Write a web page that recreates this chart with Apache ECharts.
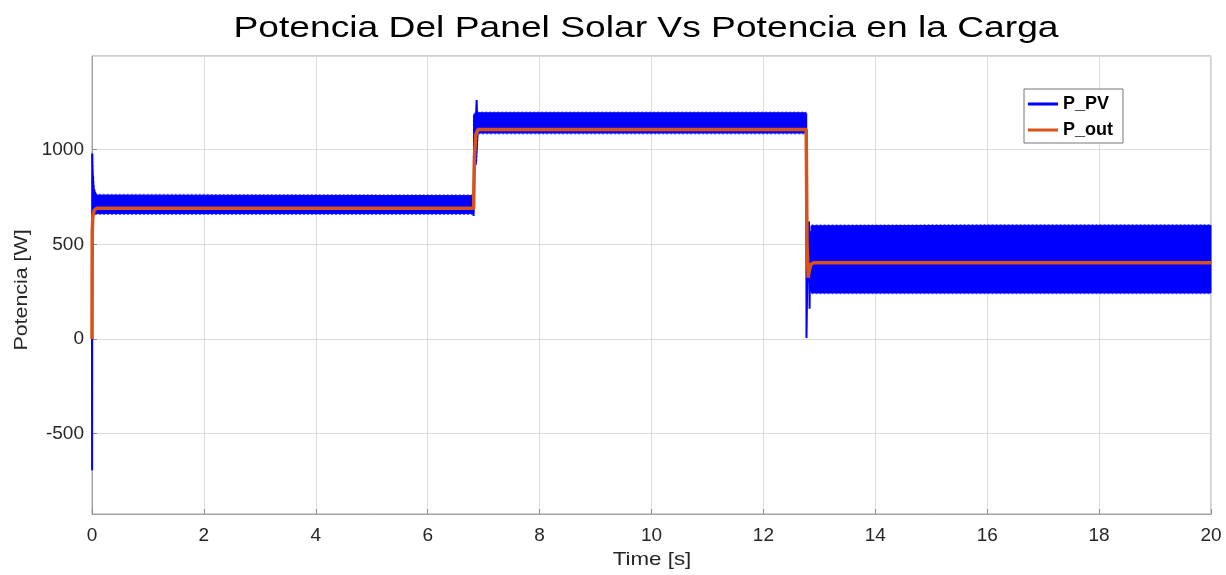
<!DOCTYPE html>
<html>
<head>
<meta charset="utf-8">
<script src="https://cdn.jsdelivr.net/npm/echarts@6/dist/echarts.min.js"></script>
<style>
  html, body { margin: 0; padding: 0; background: #ffffff; }
  #chart { width: 1226px; height: 575px; }
</style>
</head>
<body>
<div id="chart"></div>
<script>
// ---- Data -------------------------------------------------------------
// P_PV switching ripple: envelope of the fast oscillation (time [s], min/max [W]).
// A null entry breaks the band during the load-step transient.
const pvBandTime = [0.004, 0.015, 0.04, 0.08, 6.82, 6.823, 6.87, 6.9, 12.765, 12.8, 12.86, 16, 20];
const pvBandLow  = [560,   640,   660,  662,  662,  900,   930,  1088, 1088,   null, 243,   243, 243];
const pvBandHigh = [978,   880,   790,  760,  757,  1185,  1195, 1195, 1195,   null, 598,   600, 600];

// P_PV transients at start-up and at each irradiance step (null = pen up)
const pvTraceTime  = [0, 0.002, 0.006, 0.012, 0.02, 6.8, 6.82, 6.835, 6.85, 6.865, 6.875, 6.885, 6.9, 6.91, 12.76, 12.765, 12.77, 12.785, 12.8, 12.815, 12.825, 12.84, 12.85, 12.86];
const pvTraceValue = [0, -694,  978,   620,   860,  null, 650,  1180,  920,  1190,  1262,  1150,  1100, null, null,  1190,   5,     330,    300,   621,    160,    570,   250,   598];

// P_out: power delivered to the load
const outTime  = [0, 0.004, 0.015, 0.04, 0.08, 6.82, 6.835, 6.86, 6.9, 12.765, 12.78, 12.8, 12.82, 12.85, 12.9, 20];
const outValue = [0, 560,   650,   680,  690,  690,  960,   1080, 1107, 1107,   500,   324,  360,   395,   403,  403];

// Axis ranges and tick labels
const xTicks = [0, 2, 4, 6, 8, 10, 12, 14, 16, 18, 20];
const yRange = [-925, 1495];
const yTickLabels = [-500, 0, 500, 1000];

// ---- Styles -----------------------------------------------------------
const PV_BLUE = '#0000ff';
const OUT_ORANGE = '#d95319';
const FONT = '"Liberation Sans", Arial, Helvetica, sans-serif';
const TEXT = '#262626';
const AXIS = '#a3a3a3';
const GRID = '#dcdcdc';

const chart = echarts.init(document.getElementById('chart'), null, { renderer: 'canvas' });

// Ripple band: filled polygon between the envelopes, with a dashed fringe on its edges
function renderBand(params, api) {
  if (params.dataIndex !== 0) return null;
  const children = [];
  let run = [];
  const flush = () => {
    if (run.length >= 2) {
      const upper = run.map(i => api.coord([pvBandTime[i], pvBandHigh[i]]));
      const lower = run.map(i => api.coord([pvBandTime[i], pvBandLow[i]]));
      children.push({
        type: 'polygon',
        shape: { points: upper.concat(lower.slice().reverse()) },
        style: { fill: PV_BLUE, stroke: PV_BLUE, lineWidth: 1 }
      });
      children.push({
        type: 'polyline',
        shape: { points: upper.map(p => [p[0], p[1] - 0.6]) },
        style: { stroke: PV_BLUE, lineWidth: 1.6, lineDash: [2, 2], fill: null, opacity: 0.55 }
      });
      children.push({
        type: 'polyline',
        shape: { points: lower.map(p => [p[0], p[1] + 0.6]) },
        style: { stroke: PV_BLUE, lineWidth: 1.6, lineDash: [2, 2], fill: null, opacity: 0.55 }
      });
    }
    run = [];
  };
  for (let i = 0; i < pvBandTime.length; i++) {
    if (pvBandLow[i] == null || pvBandHigh[i] == null) flush();
    else run.push(i);
  }
  flush();
  return { type: 'group', children };
}

const bandData = pvBandTime
  .map((t, i) => [t, pvBandLow[i], pvBandHigh[i]])
  .filter(d => d[1] != null);
const traceData = pvTraceTime.map((t, i) => [t, pvTraceValue[i] == null ? '-' : pvTraceValue[i]]);
const outData = outTime.map((t, i) => [t, outValue[i]]);

const option = {
  animation: false,
  backgroundColor: '#ffffff',
  textStyle: { fontFamily: FONT },
  grid: {
    left: 92, right: 15, top: 56, bottom: 61,
    show: true, borderColor: AXIS, borderWidth: 1, backgroundColor: '#ffffff'
  },
  graphic: [
    {
      type: 'text', x: 646, y: 29, scaleX: 1.24,
      style: {
        text: 'Potencia Del Panel Solar Vs Potencia en la Carga',
        font: '30px ' + FONT, fill: '#000000',
        align: 'center', verticalAlign: 'middle'
      }
    },
    {
      type: 'text', x: 652, y: 560, scaleX: 1.2,
      style: {
        text: 'Time [s]', font: '18.6px ' + FONT, fill: TEXT,
        align: 'center', verticalAlign: 'middle'
      }
    },
    {
      type: 'text', x: 22, y: 290, rotation: Math.PI / 2, scaleX: 1.15,
      style: {
        text: 'Potencia [W]', font: '18.6px ' + FONT, fill: TEXT,
        align: 'center', verticalAlign: 'middle'
      }
    }
  ],
  legend: {
    left: 1024, top: 89, orient: 'vertical',
    backgroundColor: '#ffffff', borderColor: '#777777', borderWidth: 1, borderRadius: 0,
    padding: [6, 10, 4, 4], itemGap: 8, itemWidth: 30, itemHeight: 3,
    textStyle: { fontFamily: FONT, fontSize: 18, fontWeight: 'bold', color: '#000000' },
    selectedMode: false,
    data: [
      { name: 'P_PV', icon: 'rect', itemStyle: { color: PV_BLUE } },
      { name: 'P_out', icon: 'rect', itemStyle: { color: OUT_ORANGE } }
    ]
  },
  xAxis: {
    type: 'value', min: xTicks[0], max: xTicks[xTicks.length - 1], interval: xTicks[1] - xTicks[0],
    axisLine: { show: true, onZero: false, lineStyle: { color: AXIS, width: 1 } },
    axisTick: { show: true, inside: true, length: 5, lineStyle: { color: '#8a8a8a' } },
    axisLabel: { color: TEXT, fontSize: 19, fontFamily: FONT, margin: 12 },
    splitLine: { show: true, lineStyle: { color: GRID, width: 1 } }
  },
  yAxis: {
    type: 'value', min: yRange[0], max: yRange[1], splitNumber: 5,
    axisLine: { show: true, onZero: false, lineStyle: { color: AXIS, width: 1 } },
    axisTick: { show: true, inside: true, length: 5, lineStyle: { color: '#8a8a8a' } },
    axisLabel: {
      color: TEXT, fontSize: 19, fontFamily: FONT, margin: 8,
      showMinLabel: false, showMaxLabel: false,
      formatter: v => (yTickLabels.indexOf(v) >= 0 ? String(v) : '')
    },
    splitLine: { show: true, lineStyle: { color: GRID, width: 1 } }
  },
  series: [
    {
      name: 'P_PV', type: 'custom', renderItem: renderBand,
      itemStyle: { color: PV_BLUE },
      encode: { x: 0, y: [1, 2] },
      data: bandData, z: 2, silent: true
    },
    {
      name: 'P_PV', type: 'line', data: traceData,
      showSymbol: false, symbol: 'none', connectNulls: false,
      lineStyle: { color: PV_BLUE, width: 2 }, itemStyle: { color: PV_BLUE },
      z: 3, silent: true
    },
    {
      name: 'P_out', type: 'line', data: outData,
      showSymbol: false, symbol: 'none',
      lineStyle: { color: OUT_ORANGE, width: 3.5 }, itemStyle: { color: OUT_ORANGE },
      z: 4, silent: true
    }
  ]
};

chart.setOption(option);
</script>
</body>
</html>
